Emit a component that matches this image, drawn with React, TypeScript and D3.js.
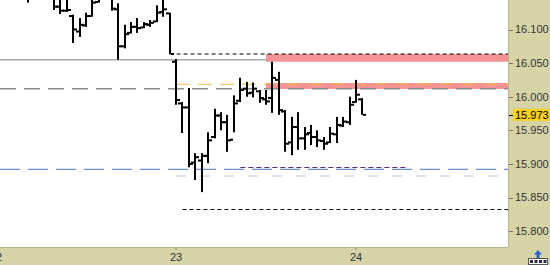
import React from 'react';
import * as d3 from 'd3';

// Bar indices: 0 = first bar of day 23, 28 bars per day
const firstIndex = -28;
const opens = [
  16.168, 16.162, 16.158, 16.155, 16.152, 16.150, 16.146, 16.154, 16.150, 16.146,
  16.134, 16.128, 16.120, 16.097, 16.106, 16.120, 16.141, 16.150, 16.152, 16.130,
  16.075, 16.095, 16.104, 16.103, 16.107, 16.112, 16.126, 16.124,
  16.052, 15.990, 15.984, 15.902, 15.905, 15.912, 15.940, 15.972, 15.962, 15.936,
  15.994, 16.012, 16.006, 16.008, 15.996, 15.998, 16.025, 15.978, 15.932, 15.955,
  15.938, 15.946, 15.940, 15.934, 15.932, 15.944, 15.957, 15.962,
  15.992, 15.996,
];
const highs = [
  16.175, 16.170, 16.166, 16.163, 16.160, 16.156, 16.158, 16.162, 16.158, 16.152,
  16.148, 16.147, 16.122, 16.117, 16.125, 16.145, 16.155, 16.158, 16.156, 16.139,
  16.107, 16.111, 16.117, 16.111, 16.114, 16.136, 16.149, 16.125,
  16.056, 15.992, 16.013, 15.916, 15.916, 15.947, 15.982, 15.977, 15.973, 16.002,
  16.028, 16.022, 16.021, 16.010, 16.010, 16.052, 16.037, 15.980, 15.970, 15.977,
  15.955, 15.958, 15.950, 15.940, 15.955, 15.970, 15.970, 16.000,
  16.025, 15.998,
];
const lows = [
  16.158, 16.152, 16.150, 16.148, 16.146, 16.140, 16.145, 16.148, 16.145, 16.129,
  16.123, 16.126, 16.080, 16.089, 16.104, 16.119, 16.140, 16.146, 16.128, 16.055,
  16.072, 16.094, 16.095, 16.102, 16.104, 16.111, 16.119, 16.0635,
  15.988, 15.946, 15.895, 15.876, 15.858, 15.901, 15.938, 15.950, 15.918, 15.947,
  15.992, 16.000, 15.999, 15.991, 15.988, 15.976, 15.973, 15.918, 15.913, 15.921,
  15.921, 15.928, 15.925, 15.921, 15.931, 15.931, 15.955, 15.958,
  15.991, 15.973,
];
const closes = [
  16.162, 16.158, 16.155, 16.152, 16.150, 16.146, 16.154, 16.150, 16.147, 16.134,
  16.128, 16.129, 16.100, 16.107, 16.120, 16.140, 16.150, 16.154, 16.131, 16.075,
  16.093, 16.104, 16.102, 16.108, 16.110, 16.125, 16.130, 16.0635,
  15.995, 15.984, 15.900, 15.910, 15.912, 15.935, 15.972, 15.962, 15.935, 15.990,
  16.010, 16.005, 16.012, 15.998, 15.993, 16.028, 15.980, 15.930, 15.955, 15.938,
  15.944, 15.940, 15.935, 15.930, 15.945, 15.958, 15.963, 15.988,
  16.003, 15.973,
];

const dayLabels = ['22', '23', '24'];
const dayStarts = [-28, 0, 28];
const priceTicks = [15.8, 15.85, 15.9, 15.95, 16.0, 16.05, 16.1];
const lastPrice = 15.973;

// Reference levels
const prevCloseLevel = 16.0635; // black short dash from last bar of day 22
const grayLevel = 16.055;
const grayDashLevel = 16.012;
const orangeLevel = 16.0185;
const blueLevel = 15.892;
const lightGrayLevel = 15.882;
const purpleLevel = 15.8954;
const lowDashLevel = 15.8324;
const upperZone = [16.052, 16.0635];
const lowerZone = [16.0115, 16.0204];

const W = 550;
const H = 265;
const plotRight = 508;
const plotBottom = 247;
const axisBg = '#d6d3a7';
const font = '"Liberation Sans", Arial, sans-serif';

export default function App() {
  const x = d3.scaleLinear().domain([0, 28]).range([176, 356]);
  const y = d3.scaleLinear().domain([15.8, 16.1]).range([231.1, 29.5]);
  const bars = d3.range(opens.length).map((i) => ({
    idx: firstIndex + i,
    o: opens[i],
    h: highs[i],
    l: lows[i],
    c: closes[i],
  }));
  const fmt = d3.format('.3f');

  return (
    <div style={{ position: 'fixed', left: 0, top: 0 }}>
      <svg width={W} height={H} style={{ display: 'block' }}>
        <defs>
          <clipPath id="plot">
            <rect x={0} y={0} width={plotRight} height={plotBottom} />
          </clipPath>
        </defs>
        <rect x={0} y={0} width={W} height={H} fill={axisBg} />
        <rect x={0} y={0} width={plotRight} height={plotBottom} fill="#ffffff" />

        <g clipPath="url(#plot)">
          {/* zones */}
          <rect x={x(14)} y={y(upperZone[1])} width={plotRight - x(14)}
            height={y(upperZone[0]) - y(upperZone[1])} fill="#f39393" />
          <rect x={x(14)} y={y(lowerZone[1])} width={plotRight - x(14)}
            height={y(lowerZone[0]) - y(lowerZone[1])} fill="#f39393" />

          {/* level lines */}
          <line x1={0} x2={x(14)} y1={y(grayLevel)} y2={y(grayLevel)} stroke="#a8a8a8" strokeWidth={1.5} />
          <line x1={0} x2={plotRight} y1={y(grayDashLevel)} y2={y(grayDashLevel)}
            stroke="#8c8c8c" strokeWidth={1.5} strokeDasharray="16,8" />
          <line x1={x(0)} x2={plotRight} y1={y(orangeLevel)} y2={y(orangeLevel)}
            stroke="#f3b84a" strokeWidth={1} strokeDasharray="14,8" />
          <line x1={x(-1)} x2={plotRight} y1={y(prevCloseLevel)} y2={y(prevCloseLevel)}
            stroke="#000" strokeWidth={1} strokeDasharray="4,3" />
          <line x1={0} x2={plotRight} y1={y(blueLevel)} y2={y(blueLevel)}
            stroke="#6f8fcc" strokeWidth={1.2} strokeDasharray="20,8" />
          <line x1={x(0)} x2={plotRight} y1={y(lightGrayLevel)} y2={y(lightGrayLevel)}
            stroke="#c8c8c8" strokeWidth={1.2} strokeDasharray="10,14" />
          <line x1={x(10)} x2={x(36)} y1={Math.round(y(purpleLevel)) + 0.5} y2={Math.round(y(purpleLevel)) + 0.5}
            stroke="#5e2a86" strokeWidth={1} strokeDasharray="5,3" />
          <line x1={x(1)} x2={plotRight} y1={Math.round(y(lowDashLevel)) + 0.5} y2={Math.round(y(lowDashLevel)) + 0.5}
            stroke="#000" strokeWidth={1} strokeDasharray="4,3" />

          {/* OHLC bars */}
          {bars.map((b) => {
            const cx = Math.round(x(b.idx));
            return (
              <g key={b.idx} fill="#000">
                <rect x={cx - 1} y={y(b.h)} width={2} height={Math.max(1, y(b.l) - y(b.h))} />
                <rect x={cx - 4} y={y(b.o) - 1} width={3} height={2} />
                <rect x={cx + 1} y={y(b.c) - 1} width={3} height={2} />
              </g>
            );
          })}
        </g>

        {/* plot borders */}
        <line x1={plotRight + 0.5} x2={plotRight + 0.5} y1={0} y2={plotBottom} stroke="#b9b68c" />
        <line x1={0} x2={plotRight} y1={plotBottom + 0.5} y2={plotBottom + 0.5} stroke="#b9b68c" />

        {/* price axis */}
        {priceTicks.map((t) => (
          <g key={t}>
            <line x1={plotRight + 1} x2={plotRight + 5} y1={Math.round(y(t)) + 0.5} y2={Math.round(y(t)) + 0.5} stroke="#777" />
            <text x={515} y={y(t)} dy="0.35em" fontFamily={font} fontSize={11} fill="#333">
              {fmt(t)}
            </text>
          </g>
        ))}
        <rect x={513} y={y(lastPrice) - 6} width={37} height={12} fill="#f6d21a" />
        <line x1={plotRight + 1} x2={plotRight + 5} y1={Math.round(y(lastPrice)) + 0.5} y2={Math.round(y(lastPrice)) + 0.5} stroke="#000" />
        <text x={515} y={y(lastPrice)} dy="0.35em" fontFamily={font} fontSize={11} fill="#000">
          {fmt(lastPrice)}
        </text>

        {/* day axis */}
        {dayStarts.map((d, i) => (
          <g key={d}>
            <line x1={x(d)} x2={x(d)} y1={plotBottom + 1} y2={plotBottom + 3} stroke="#888" />
            <text x={x(d)} y={257} dy="0.35em" textAnchor="middle" fontFamily={font} fontSize={11} fill="#333">
              {dayLabels[i]}
            </text>
          </g>
        ))}

        {/* corner button */}
        <g>
          <rect x={528.5} y={258.5} width={19} height={6} fill="#ffffff" stroke="#555" />
          {[0, 1, 2, 3].map((k) => (
            <rect key={k} x={530 + k * 4.5} y={260} width={3} height={3} fill="#2a2a4a" />
          ))}
          <path d="M538,250 L534,254.5 L536.5,254.5 L536.5,258 L539.5,258 L539.5,254.5 L542,254.5 Z" fill="#2a62c9" />
        </g>
      </svg>
    </div>
  );
}
